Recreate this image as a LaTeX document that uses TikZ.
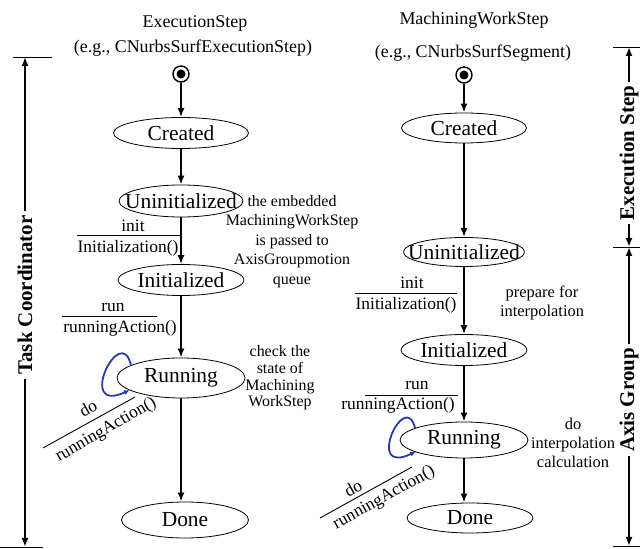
\documentclass[tikz,border=0pt]{standalone}
\usepackage{fontspec}
\setmainfont{Liberation Serif}
\usetikzlibrary{shapes.geometric,arrows.meta}
\definecolor{loopblue}{RGB}{38,58,168}
\begin{document}
\begin{tikzpicture}[>={Latex[length=9bp,width=7bp]},line join=bevel,
    state/.style={draw,ellipse,inner sep=0pt,line width=0.8bp,minimum width=126bp,minimum height=31bp,font=\fontsize{21.5}{25}\selectfont},
    startdot/.style={draw,circle,line width=1.4bp,minimum size=16bp,inner sep=0pt,path picture={\fill (path picture bounding box.center) circle (4.5bp);}},
    flow/.style={->,line width=1.8bp},
    loopline/.style={draw=loopblue,line width=1.8bp,-{Latex[length=6bp,width=5bp]}},
    rule/.style={line width=0.9bp},
    head/.style={font=\fontsize{18}{21}\selectfont,inner sep=0pt},
    lbl/.style={font=\fontsize{17.5}{21}\selectfont,inner sep=0pt},
    note/.style={align=center,inner sep=0pt},
    side/.style={font=\bfseries\fontsize{21}{25}\selectfont,rotate=90,inner sep=4bp},
    ]
    \useasboundingbox (0bp,0bp) rectangle (640bp,549bp);
    %% left: ExecutionStep
    \node (lname) at (195bp,526bp) [head] {ExecutionStep};
    \node (lexample) at (193bp,501bp) [head] {(e.g., CNurbsSurfExecutionStep)};
    \node (lstart) at (181bp,475bp) [startdot] {};
    \node (lcreated) at (181bp,416bp) [state,minimum width=135bp] {\makebox[0pt]{Created}};
    \node (luninit) at (181bp,348bp) [state,minimum width=124bp,minimum height=32bp] {\makebox[0pt]{Uninitialized}};
    \node (linit) at (181bp,269bp) [state] {\makebox[0pt]{Initialized}};
    \node (lrun) at (181bp,171bp) [state,minimum width=128bp,minimum height=40bp] {\makebox[0pt]{Running}};
    \node (ldone) at (185bp,29bp) [state,minimum width=127bp,minimum height=36bp] {\makebox[0pt]{Done}};
    \draw [flow] (lstart) -- (lcreated);
    \draw [flow] (lcreated) -- (luninit);
    \draw [flow] (luninit) -- (linit);
    \draw [flow] (linit) -- (lrun);
    \draw [flow] (lrun.south) -- (lrun.south |- ldone.north);
    \draw [loopline] ([xshift=-50bp,yshift=12.5bp]lrun.center) .. controls +(-10bp,45bp) and +(-55bp,-25bp) .. ([xshift=-51bp,yshift=-12bp]lrun.center);
    %
    \node (linitev) at (133bp,323bp) [lbl] {init};
    \node (linitact) at (128bp,301bp) [lbl] {Initialization()};
    \coordinate (linitA) at (77bp,314bp);
    \coordinate (linitB) at (180bp,314bp);
    \draw [rule] (linitA) -- (linitB);
    \node (lrunev) at (113bp,242bp) [lbl] {run};
    \node (lrunact) at (120bp,221bp) [lbl] {runningAction()};
    \coordinate (lrunA) at (62bp,233bp);
    \coordinate (lrunB) at (157bp,233bp);
    \draw [rule] (lrunA) -- (lrunB);
    \node (ldoev) at (88bp,141bp) [lbl,rotate=29] {do};
    \node (ldoact) at (106bp,119bp) [lbl,rotate=30] {runningAction()};
    \coordinate (ldoA) at (43bp,101bp);
    \coordinate (ldoB) at (135bp,152bp);
    \draw [rule] (ldoA) -- (ldoB);
    \node (lnote1) at (292bp,307.5bp) [note,font=\fontsize{16}{19.5}\selectfont] {the embedded\\MachiningWorkStep\\is passed to\\AxisGroupmotion\\queue};
    \node (lnote2) at (280bp,171bp) [note,font=\fontsize{16}{16.7}\selectfont] {check the\\state of\\Machining\\WorkStep};
    %% right: MachiningWorkStep
    \node (rname) at (474bp,529bp) [head] {MachiningWorkStep};
    \node (rexample) at (473bp,496bp) [head] {(e.g., CNurbsSurfSegment)};
    \node (rstart) at (464bp,474bp) [startdot] {};
    \node (rcreated) at (464bp,421bp) [state,minimum width=125bp,minimum height=30bp] {\makebox[0pt]{Created}};
    \node (runinit) at (464bp,297bp) [state,minimum width=121bp,minimum height=29bp] {\makebox[0pt]{Uninitialized}};
    \node (rinit) at (464bp,199bp) [state] {\makebox[0pt]{Initialized}};
    \node (rrun) at (464bp,109bp) [state,minimum width=128bp,minimum height=36bp] {\makebox[0pt]{Running}};
    \node (rdone) at (470bp,31bp) [state,minimum height=30bp] {\makebox[0pt]{Done}};
    \draw [flow] (rstart) -- (rcreated);
    \draw [flow] (rcreated) -- (runinit);
    \draw [flow] (runinit) -- (rinit);
    \draw [flow] (rinit) -- (rrun);
    \draw [flow] (rrun.south) -- (rrun.south |- rdone.north);
    \draw [loopline] ([xshift=-49bp,yshift=12bp]rrun.center) .. controls +(-10bp,40bp) and +(-52bp,-25bp) .. ([xshift=-48bp,yshift=-11.5bp]rrun.center);
    %
    \node (rinitev) at (412bp,266bp) [lbl] {init};
    \node (rinitact) at (406bp,244bp) [lbl] {Initialization()};
    \coordinate (rinitA) at (355bp,256bp);
    \coordinate (rinitB) at (457bp,256bp);
    \draw [rule] (rinitA) -- (rinitB);
    \node (rrunev) at (417bp,164bp) [lbl] {run};
    \node (rrunact) at (398bp,144bp) [lbl] {runningAction()};
    \coordinate (rrunA) at (365bp,154bp);
    \coordinate (rrunB) at (458bp,154bp);
    \draw [rule] (rrunA) -- (rrunB);
    \node (rdoev) at (353bp,61bp) [lbl,rotate=29] {do};
    \node (rdoact) at (384bp,51bp) [lbl,rotate=29] {runningAction()};
    \coordinate (rdoA) at (320bp,31bp);
    \coordinate (rdoB) at (412bp,82bp);
    \draw [rule] (rdoA) -- (rdoB);
    \node (rnote1) at (542bp,246bp) [note,font=\fontsize{16.5}{20}\selectfont] {prepare for\\interpolation};
    \node (rnote2) at (573bp,106bp) [note,font=\fontsize{16.5}{19}\selectfont] {do\\interpolation\\calculation};
    %% side brackets
    \node (ltask) at (25bp,254bp) [side] {Task Coordinator};
    \coordinate (ltasktop) at (25bp,492bp);
    \coordinate (ltaskbot) at (25bp,2bp);
    \draw [rule] (13bp,492bp) -- (52bp,492bp);
    \draw [rule] (0bp,2bp) -- (43bp,2bp);
    \draw [flow] (ltask) -- (ltasktop);
    \draw [flow] (ltask) -- (ltaskbot);
    \node (rexec) at (629bp,396bp) [side] {Execution Step};
    \node (raxis) at (629bp,149bp) [side] {Axis Group};
    \coordinate (rexectop) at (629bp,502bp);
    \coordinate (rmid) at (629bp,302bp);
    \coordinate (raxisbot) at (629bp,3bp);
    \draw [rule] (613bp,502bp) -- (640bp,502bp);
    \draw [rule] (613bp,302bp) -- (640bp,302bp);
    \draw [rule] (613bp,3bp) -- (640bp,3bp);
    \draw [flow] (rexec) -- (rexectop);
    \draw [flow] (rexec) -- (rmid);
    \draw [flow] (raxis) -- (rmid);
    \draw [flow] (raxis) -- (raxisbot);
    %
\end{tikzpicture}
\end{document}
